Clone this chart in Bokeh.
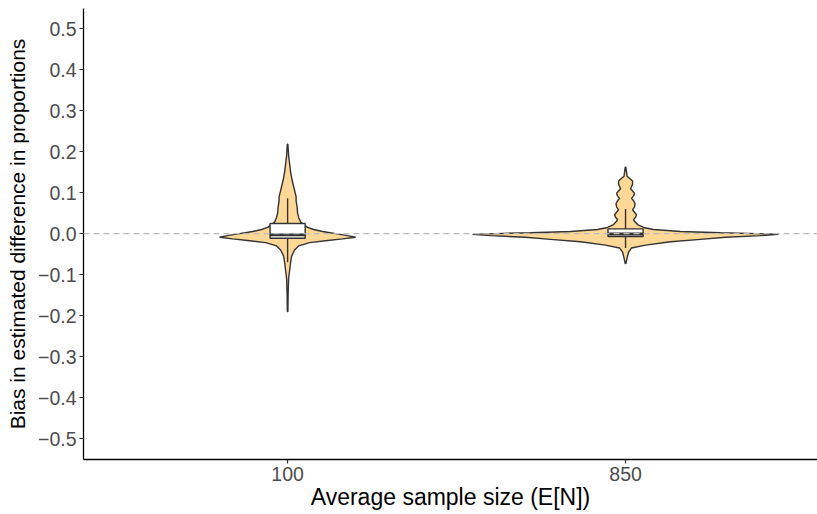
from bokeh.plotting import figure
from bokeh.models import Range1d, FixedTicker, Span
from bokeh.embed import file_html
from bokeh.resources import INLINE

# ---- data ----
categories = ["100", "850"]

# violin profiles: value levels and half-widths (in pixels)
v100_y = [-0.19, -0.15, -0.11, -0.09, -0.07, -0.055, -0.04, -0.03, -0.022, -0.017,
          -0.013, -0.009, -0.005, 0.0, 0.005, 0.01, 0.015, 0.02, 0.028, 0.04,
          0.05, 0.065, 0.08, 0.09, 0.1, 0.11, 0.13, 0.15, 0.17, 0.19, 0.218]
v100_w = [0.3, 0.5, 1, 2, 3, 4, 7, 11, 22, 40,
          55, 68, 60, 48, 35, 26, 20, 17, 13, 11,
          10, 9.5, 8.5, 8.5, 7.5, 6.5, 4.5, 3, 2, 1, 0.3]

v850_y = [-0.073, -0.06, -0.045, -0.035, -0.028, -0.02, -0.014, -0.009, -0.005, -0.002,
          0.0, 0.002, 0.005, 0.01, 0.015, 0.022, 0.03, 0.034, 0.04, 0.046,
          0.052, 0.058, 0.065, 0.073, 0.08, 0.086, 0.092, 0.098, 0.104, 0.11,
          0.12, 0.128, 0.135, 0.14, 0.15, 0.162]
v850_w = [0.3, 1.5, 3, 6, 20, 45, 75, 100, 135, 153,
          130, 95, 55, 28, 18, 12, 9, 8, 10, 11,
          9, 7, 9, 9.5, 8, 6, 8, 9, 7, 5,
          7, 7, 4, 1.5, 1, 0.3]

# box statistics: lower whisker, q1, median, q3, upper whisker
box_lo = [-0.07, -0.035]
box_q1 = [-0.0115, -0.007]
box_med = [-0.003, -0.001]
box_q3 = [0.0245, 0.0115]
box_hi = [0.086, 0.06]

y_ticks = [-0.5, -0.4, -0.3, -0.2, -0.1, 0.0, 0.1, 0.2, 0.3, 0.4, 0.5]

PX_PER_UNIT = 338.0  # widths above were read in pixels
profiles = [(v100_y, v100_w), (v850_y, v850_w)]

FILL = "#FFD895"
DARK = "#333333"
FONT = "Liberation Sans"

p = figure(width=817, height=514, output_backend="svg", toolbar_location=None,
           x_range=Range1d(0.396, 2.568), y_range=Range1d(-0.551, 0.549),
           min_border_left=83, min_border_right=0, min_border_top=8,
           min_border_bottom=55)
p.outline_line_color = None
p.xgrid.visible = False
p.ygrid.visible = False
p.background_fill_color = "white"

for i, (ys, ws) in enumerate(profiles):
    c = i + 1
    hw = [w / PX_PER_UNIT for w in ws]
    xs = [c - h for h in hw] + [c + h for h in reversed(hw)]
    yy = list(ys) + list(reversed(ys))
    p.patch(xs, yy, fill_color=FILL, line_color=DARK, line_width=1.4)

bw = 0.052
for i in range(len(categories)):
    c = i + 1
    p.segment(x0=[c, c], y0=[box_q3[i], box_q1[i]], x1=[c, c], y1=[box_hi[i], box_lo[i]],
              line_color=DARK, line_width=1.4)
    p.quad(left=[c - bw], right=[c + bw], bottom=[box_q1[i]], top=[box_q3[i]],
           fill_color="white", line_color=DARK, line_width=1.4)
    p.segment(x0=[c - bw], y0=[box_med[i]], x1=[c + bw], y1=[box_med[i]],
              line_color=DARK, line_width=2.8)

p.add_layout(Span(location=0, dimension="width", line_color="#BBBBBB",
                  line_dash="6 4", line_width=1.3))

# axes
p.xaxis.ticker = FixedTicker(ticks=[1, 2])
p.xaxis.major_label_overrides = {1: categories[0], 2: categories[1]}
p.yaxis.ticker = FixedTicker(ticks=y_ticks)
p.yaxis.major_label_overrides = {t: (f"{t:.1f}".replace("-", "\u2212")) for t in y_ticks}
p.yaxis.major_label_overrides[0.0] = "0.0"

for ax in (p.xaxis[0], p.yaxis[0]):
    ax.axis_line_color = "black"
    ax.axis_line_width = 1.3
    ax.major_tick_line_color = DARK
    ax.major_tick_line_width = 1.2
    ax.major_tick_in = 0
    ax.major_tick_out = 4
    ax.minor_tick_line_color = None
    ax.major_label_text_font = FONT
    ax.major_label_text_font_size = "19.5px"
    ax.major_label_text_color = "#4D4D4D"
    ax.axis_label_text_font = FONT
    ax.axis_label_text_font_style = "normal"
    ax.axis_label_text_color = "black"

p.xaxis.axis_label_text_font_size = "23px"
p.yaxis.axis_label_text_font_size = "21px"
p.xaxis.axis_label = "Average sample size (E[N])"
p.yaxis.axis_label = "Bias in estimated difference in proportions"
p.xaxis.major_label_standoff = 3
p.xaxis.axis_label_standoff = 0
p.yaxis.major_label_standoff = 3
p.yaxis.axis_label_standoff = 6

open("out.html", "w").write(file_html(p, INLINE))
